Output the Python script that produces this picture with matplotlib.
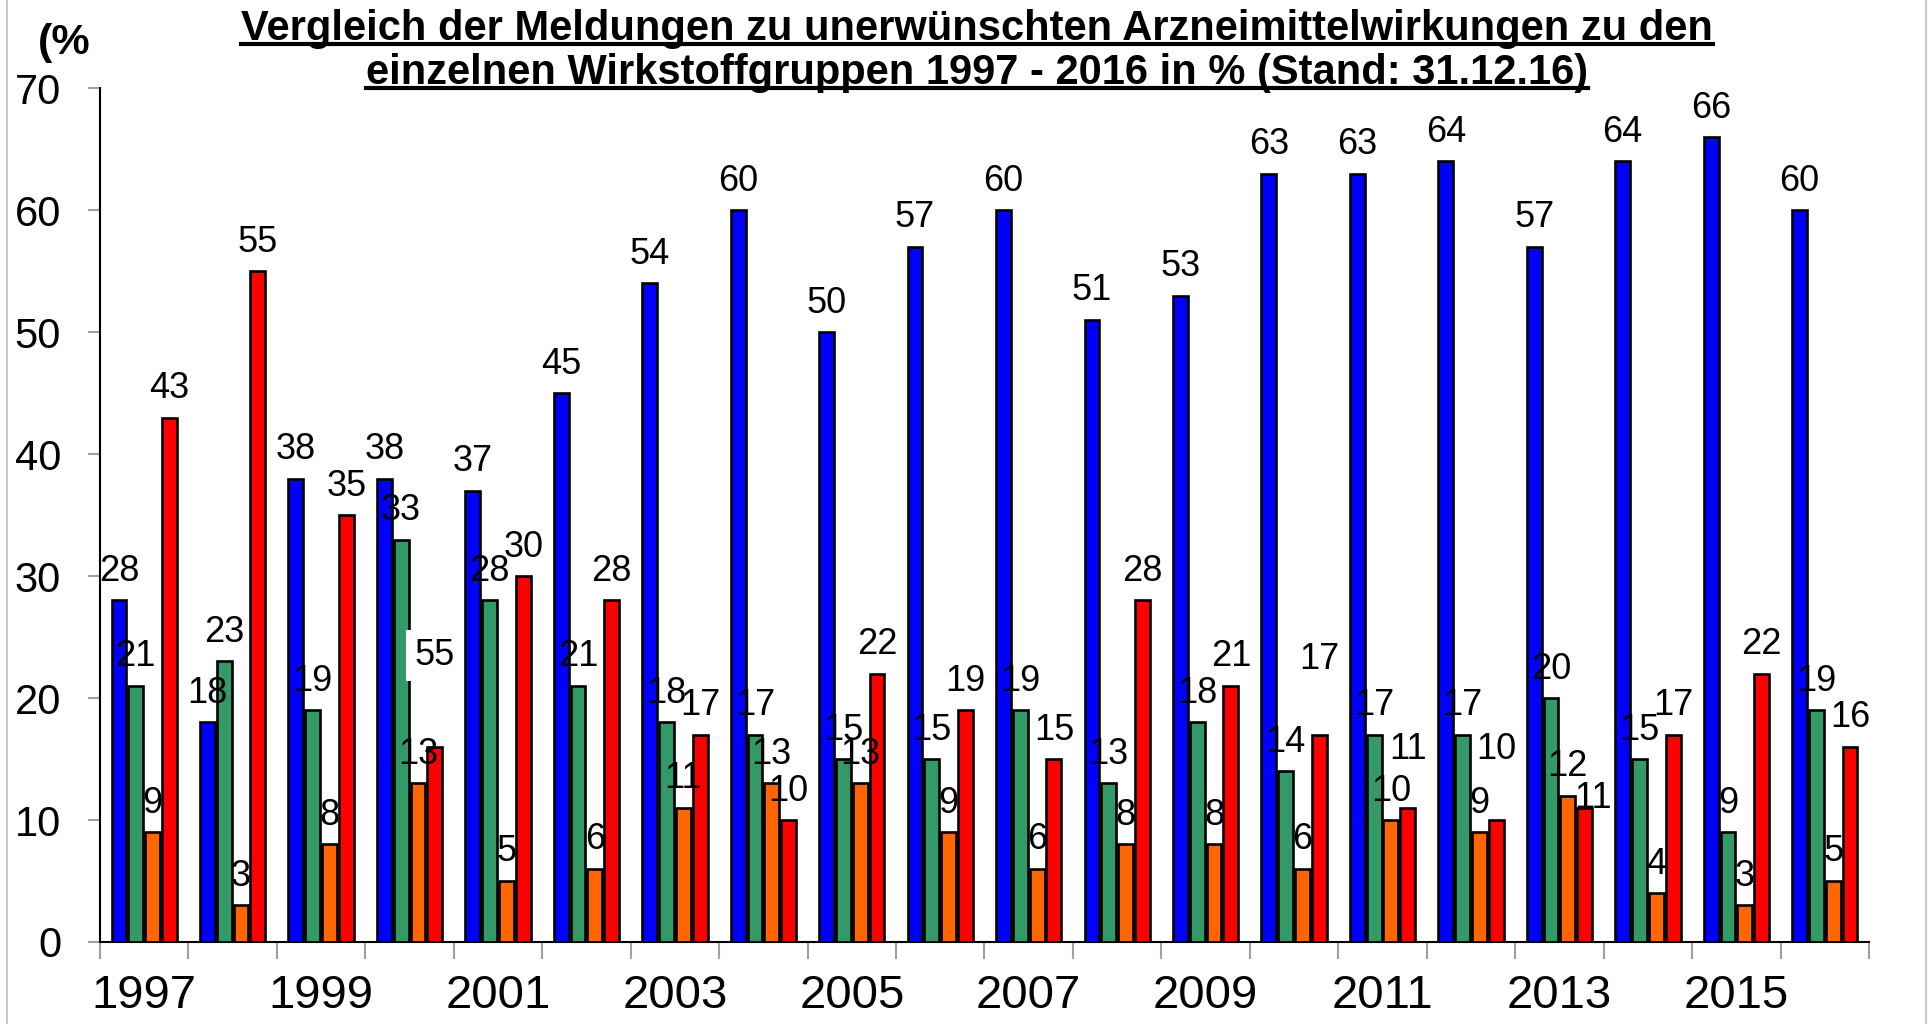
import matplotlib
matplotlib.use("Agg")
import matplotlib.pyplot as plt
from matplotlib import font_manager
from matplotlib.lines import Line2D
import numpy as np

# -------------------- DATA --------------------
years = list(range(1997, 2017))
blue = [28, 18, 38, 38, 37, 45, 54, 60, 50, 57, 60, 51, 53, 63, 63, 64, 57, 64, 66, 60]
green = [21, 23, 19, 33, 28, 21, 18, 17, 15, 15, 19, 13, 18, 14, 17, 17, 20, 15, 9, 19]
orange = [9, 3, 8, 13, 5, 6, 11, 13, 13, 9, 6, 8, 8, 6, 10, 9, 12, 4, 3, 5]
red = [43, 55, 35, 16, 30, 28, 17, 10, 22, 19, 15, 28, 21, 17, 11, 10, 11, 17, 22, 16]
# the original shows "55" as label of the red bar in 2000
red_label_text = {2000: "55"}

series = [blue, green, orange, red]
colors = ["#0000FF", "#339966", "#FF6600", "#FF0000"]
year_labels = [str(y) if (y - 1997) % 2 == 0 else "" for y in years]
title_lines = ["Vergleich der Meldungen zu unerwünschten Arzneimittelwirkungen zu den",
               "einzelnen Wirkstoffgruppen 1997 - 2016 in % (Stand: 31.12.16)"]

# hand-placed red labels in the original (extra lift in % units, x shift in groups)
red_label_nudge = {2000: (5.1, 0.0), 2010: (3.8, 0.0), 2011: (2.4, 0.0),
                   2012: (3.4, 0.0), 2013: (-1.65, 0.09)}

# -------------------- FONT --------------------
names = {f.name for f in font_manager.fontManager.ttflist}
NARROW = "Liberation Sans Narrow" if "Liberation Sans Narrow" in names else "Liberation Sans"
plt.rcParams["font.family"] = ["Liberation Sans", "DejaVu Sans"]

fig = plt.figure(figsize=(19.3, 10.24), dpi=100)
ax = fig.add_axes([0.0518, 0.0801, 0.9166, 0.8337])

x = np.arange(len(years))
step = 0.19
width = 0.168
for k, (vals, col) in enumerate(zip(series, colors)):
    pos = x + (k - 1.5) * step
    ax.bar(pos, vals, width=width, color=col, edgecolor="black", linewidth=1.9, zorder=3)
    for i, (px, v) in enumerate(zip(pos, vals)):
        txt = str(v)
        dy, dx = 0.0, 0.0
        box = None
        if k == 3 and years[i] in red_label_nudge:
            dy, dx = red_label_nudge[years[i]]
        if k == 3 and years[i] in red_label_text:
            txt = red_label_text[years[i]]
            box = dict(facecolor="white", edgecolor="none", pad=6)
        ax.text(px + dx, v + 1.6 + dy, txt, ha="center", va="baseline", fontsize=26,
                zorder=5, bbox=box)

ax.set_xlim(-0.5, len(years) - 0.5)
ax.set_ylim(0, 70)
ax.set_yticks(range(0, 71, 10))
ax.tick_params(axis="y", labelsize=30, length=9, width=1.5, color="#a0a0a0", pad=19)
ax.set_xticks(x)
ax.set_xticklabels(year_labels)
ax.tick_params(axis="x", which="major", length=0, labelsize=34, pad=23)
ax.set_xticks(np.arange(-0.5, len(years)), minor=True)
ax.tick_params(axis="x", which="minor", length=12, width=1.5, color="#a0a0a0")
for s in ["top", "right"]:
    ax.spines[s].set_visible(False)
ax.spines["left"].set_linewidth(1.5)
ax.spines["bottom"].set_linewidth(1.5)

# title with underline
fig.text(0.033, 0.958, "(%", fontsize=31, fontweight="bold", ha="center", va="center")
title_y = [0.972, 0.929]
texts = [fig.text(0.506, ty, line, fontsize=30, fontweight="bold", ha="center", va="center",
                  family=[NARROW, "DejaVu Sans"])
         for ty, line in zip(title_y, title_lines)]
fig.canvas.draw()
r = fig.canvas.get_renderer()
for t in texts:
    bb = t.get_window_extent(r).transformed(fig.transFigure.inverted())
    uy = bb.y0 + 0.005
    fig.add_artist(Line2D([bb.x0, bb.x1], [uy, uy], color="black", linewidth=3,
                          transform=fig.transFigure))

# light frame lines on the picture edges
for fx in [0.0035, 0.998]:
    fig.add_artist(Line2D([fx, fx], [0, 1], color="#c8c8c8", linewidth=1.5,
                          transform=fig.transFigure))

plt.savefig("out.png", dpi=100)
